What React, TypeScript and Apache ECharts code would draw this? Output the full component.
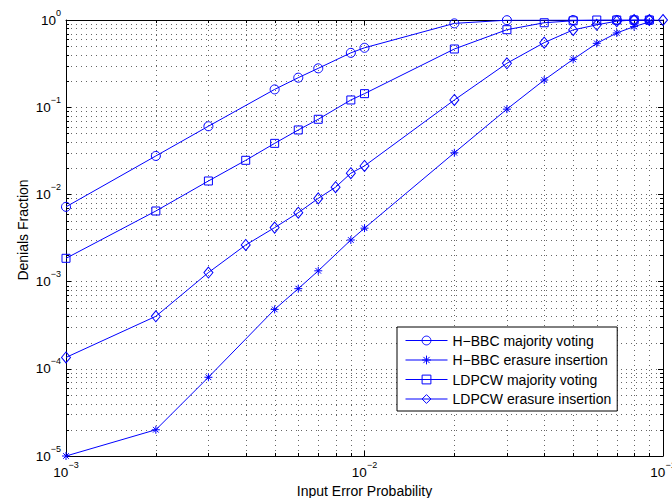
import React, { useEffect, useRef } from 'react';
import * as echarts from 'echarts';

// ---- data ----
const hbbcMajorityX = [0.001, 0.002, 0.003, 0.005, 0.006, 0.007, 0.009, 0.01, 0.02, 0.03, 0.05, 0.07, 0.08, 0.09];
const hbbcMajorityY = [0.0072, 0.0276, 0.0605, 0.16, 0.218, 0.279, 0.42, 0.48, 0.915, 0.995, 1, 1, 1, 1];

const hbbcErasureX = [0.001, 0.002, 0.003, 0.005, 0.006, 0.007, 0.009, 0.01, 0.02, 0.03, 0.04, 0.05, 0.06, 0.07, 0.08, 0.09];
const hbbcErasureY = [1e-5, 2.0e-5, 8.0e-5, 4.8e-4, 8.3e-4, 1.33e-3, 3.0e-3, 4.1e-3, 0.030, 0.095, 0.205, 0.354, 0.54, 0.71, 0.84, 0.95];

const ldpcwMajorityX = [0.001, 0.002, 0.003, 0.004, 0.005, 0.006, 0.007, 0.009, 0.01, 0.02, 0.03, 0.04, 0.05, 0.06, 0.07, 0.08, 0.09];
const ldpcwMajorityY = [1.85e-3, 6.45e-3, 0.01425, 0.0246, 0.0385, 0.0548, 0.0727, 0.121, 0.143, 0.465, 0.774, 0.93, 0.98, 1, 1, 1, 1];

const ldpcwErasureX = [0.001, 0.002, 0.003, 0.004, 0.005, 0.006, 0.007, 0.008, 0.009, 0.01, 0.02, 0.03, 0.04, 0.05, 0.06, 0.07, 0.08, 0.09, 0.1];
const ldpcwErasureY = [1.35e-4, 4.0e-4, 1.27e-3, 2.63e-3, 4.16e-3, 6.17e-3, 9.0e-3, 0.0121, 0.0175, 0.0212, 0.121, 0.319, 0.55, 0.77, 0.88, 0.97, 1, 1, 1];

const seriesNames = [
  'H\u2212BBC majority voting',
  'H\u2212BBC erasure insertion',
  'LDPCW majority voting',
  'LDPCW erasure insertion',
];

const xRange = [0.001, 0.1];
const yRange = [1e-5, 1];
const xMinorTicks = [0.002, 0.003, 0.004, 0.005, 0.006, 0.007, 0.008, 0.009, 0.02, 0.03, 0.04, 0.05, 0.06, 0.07, 0.08, 0.09];
const yMinorTicks = [
  2e-5, 3e-5, 4e-5, 5e-5, 6e-5, 7e-5, 8e-5, 9e-5,
  2e-4, 3e-4, 4e-4, 5e-4, 6e-4, 7e-4, 8e-4, 9e-4,
  2e-3, 3e-3, 4e-3, 5e-3, 6e-3, 7e-3, 8e-3, 9e-3,
  2e-2, 3e-2, 4e-2, 5e-2, 6e-2, 7e-2, 8e-2, 9e-2,
  0.2, 0.3, 0.4, 0.5, 0.6, 0.7, 0.8, 0.9,
];

const xLabel = 'Input Error Probability';
const yLabel = 'Denials Fraction';

// ---- styles ----
const BLUE = '#0000ff';
const GRID = '#666666';
const FONT = '"Liberation Sans", Arial, Helvetica, sans-serif';
const DOT = [1, 4];
const starPath = 'path://M0,-10L0,10M-10,0L10,0M-7.07,-7.07L7.07,7.07M-7.07,7.07L7.07,-7.07';

const pairs = (xs: number[], ys: number[]) => xs.map((x, i) => [x, ys[i]]);
const crisp = (v: number) => Math.round(v) + 0.5;

const powLabel = (v: number) => {
  const e = Math.round(Math.log10(v));
  const s = e === 0 ? '0' : '\u2212' + String(-e);
  return `{b|10}{s|${s}}`;
};
const rich = {
  b: { fontSize: 13.5, lineHeight: 24, fontFamily: FONT, color: '#000' },
  s: { fontSize: 9, lineHeight: 10, verticalAlign: 'top', fontFamily: FONT, color: '#000' },
};

const lineSeries = (name: string, data: number[][], symbol: string, size: any) => ({
  name,
  type: 'line',
  data,
  symbol,
  symbolSize: size,
  showSymbol: true,
  showAllSymbol: true,
  lineStyle: { color: BLUE, width: 1 },
  itemStyle: { color: 'none', borderColor: BLUE, borderWidth: 1 },
  emphasis: { disabled: true },
  silent: true,
  z: 5,
});

export default function App() {
  const ref = useRef<HTMLDivElement>(null);
  useEffect(() => {
    if (!ref.current) return;
    const chart = echarts.init(ref.current, undefined, { renderer: 'svg' });
    const baseX = {
      type: 'log',
      logBase: 10,
      min: xRange[0],
      max: xRange[1],
    };
    const baseY = {
      type: 'log',
      logBase: 10,
      min: yRange[0],
      max: yRange[1],
    };
    chart.setOption({
      animation: false,
      backgroundColor: '#ffffff',
      textStyle: { fontFamily: FONT, color: '#000' },
      grid: { left: 66, right: 9, top: 20, bottom: 42, containLabel: false, outerBoundsMode: 'none' },
      xAxis: [
        {
          ...baseX,
          position: 'bottom',
          name: xLabel,
          nameLocation: 'middle',
          nameGap: 26,
          nameTextStyle: { fontSize: 14, fontFamily: FONT, color: '#000' },
          axisLine: { show: true, lineStyle: { color: '#000', width: 1 } },
          axisTick: { show: true, inside: true, length: 5, lineStyle: { color: '#000', width: 1 } },
          axisLabel: { show: true, margin: 4, formatter: powLabel, rich },
          splitLine: { show: true, lineStyle: { color: GRID, width: 1, type: DOT } },
          minorTick: { show: false },
        },
        {
          ...baseX,
          position: 'top',
          axisLine: { show: true, lineStyle: { color: '#000', width: 1 } },
          axisTick: { show: true, inside: true, length: 5, lineStyle: { color: '#000', width: 1 } },
          axisLabel: { show: false },
          splitLine: { show: false },
        },
      ],
      yAxis: [
        {
          ...baseY,
          position: 'left',
          axisLine: { show: true, lineStyle: { color: '#000', width: 1 } },
          axisTick: { show: true, inside: true, length: 5, lineStyle: { color: '#000', width: 1 } },
          axisLabel: { show: true, margin: 5, formatter: powLabel, rich },
          splitLine: { show: true, lineStyle: { color: GRID, width: 1, type: DOT } },
        },
        {
          ...baseY,
          position: 'right',
          axisLine: { show: true, lineStyle: { color: '#000', width: 1 } },
          axisTick: { show: true, inside: true, length: 5, lineStyle: { color: '#000', width: 1 } },
          axisLabel: { show: false },
          splitLine: { show: false },
        },
      ],
      legend: {
        show: true,
        data: seriesNames,
        orient: 'vertical',
        left: 397,
        top: 327,
        padding: [6.5, 6, 5, 8],
        itemGap: 5.5,
        itemWidth: 42,
        itemHeight: 11,
        backgroundColor: '#ffffff',
        borderColor: '#000000',
        borderWidth: 1,
        borderRadius: 0,
        selectedMode: false,
        lineStyle: { width: 1, color: BLUE },
        itemStyle: { color: 'none', borderColor: BLUE, borderWidth: 1 },
        textStyle: { fontSize: 14, fontFamily: FONT, color: '#000' },
      },
      graphic: [
        {
          type: 'text',
          x: 23,
          y: 230,
          rotation: Math.PI / 2,
          style: {
            text: yLabel,
            fontSize: 14,
            fontFamily: FONT,
            fill: '#000',
            align: 'center',
            verticalAlign: 'middle',
          },
        },
      ],
      series: [
        {
          type: 'custom',
          silent: true,
          z: 1,
          data: xMinorTicks.map((v) => [v, yRange[0]]),
          renderItem: (_p: any, api: any) => {
            const v = api.value(0);
            const b = api.coord([v, yRange[0]]);
            const t = api.coord([v, yRange[1]]);
            const x = crisp(b[0]);
            return {
              type: 'group',
              children: [
                { type: 'line', shape: { x1: x, y1: t[1], x2: x, y2: b[1] }, style: { stroke: GRID, lineWidth: 1, lineDash: DOT } },
                { type: 'line', shape: { x1: x, y1: b[1], x2: x, y2: b[1] - 3 }, style: { stroke: '#000', lineWidth: 1 } },
                { type: 'line', shape: { x1: x, y1: t[1], x2: x, y2: t[1] + 3 }, style: { stroke: '#000', lineWidth: 1 } },
              ],
            };
          },
        },
        {
          type: 'custom',
          silent: true,
          z: 1,
          data: yMinorTicks.map((v) => [xRange[0], v]),
          renderItem: (_p: any, api: any) => {
            const v = api.value(1);
            const l = api.coord([xRange[0], v]);
            const r = api.coord([xRange[1], v]);
            const y = crisp(l[1]);
            return {
              type: 'group',
              children: [
                { type: 'line', shape: { x1: l[0], y1: y, x2: r[0], y2: y }, style: { stroke: GRID, lineWidth: 1, lineDash: DOT } },
                { type: 'line', shape: { x1: l[0], y1: y, x2: l[0] + 3, y2: y }, style: { stroke: '#000', lineWidth: 1 } },
                { type: 'line', shape: { x1: r[0], y1: y, x2: r[0] - 3, y2: y }, style: { stroke: '#000', lineWidth: 1 } },
              ],
            };
          },
        },
        lineSeries(seriesNames[0], pairs(hbbcMajorityX, hbbcMajorityY), 'circle', 9),
        lineSeries(seriesNames[1], pairs(hbbcErasureX, hbbcErasureY), starPath, 8),
        lineSeries(seriesNames[2], pairs(ldpcwMajorityX, ldpcwMajorityY), 'rect', 8),
        lineSeries(seriesNames[3], pairs(ldpcwErasureX, ldpcwErasureY), 'diamond', [9, 11]),
      ],
    });
    return () => chart.dispose();
  }, []);
  return (
    <div
      ref={ref}
      style={{ position: 'fixed', left: 0, top: 0, width: 672, height: 498, background: '#fff' }}
    />
  );
}
